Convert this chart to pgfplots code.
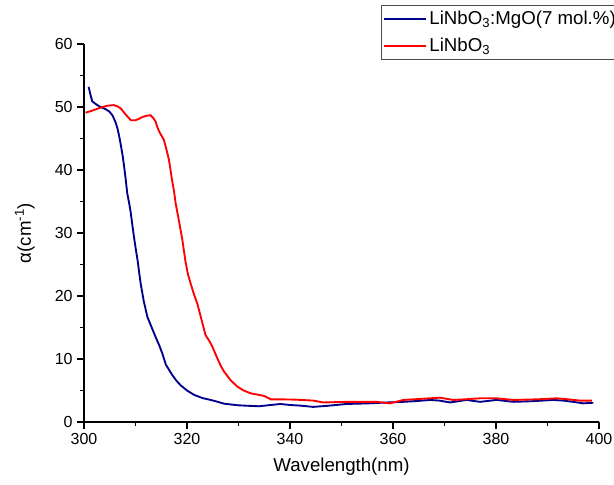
\documentclass[border=0pt]{standalone}
\usepackage{pgfplots}
\pgfplotsset{compat=1.18}
\usepackage{fontspec}
\setmainfont{Liberation Sans}
\definecolor{navyline}{RGB}{0,0,140}
\begin{document}
\begin{tikzpicture}
\begin{axis}[
  scale only axis,
  width=386.25pt, height=283.5pt,
  at={(0,0)}, anchor=south west,
  xmin=300, xmax=400, ymin=0, ymax=60,
  axis x line*=bottom, axis y line*=left,
  axis line style={-, line width=0.9pt},
  xtick={300,320,...,400}, ytick={0,10,...,60},
  minor x tick num=1, minor y tick num=1,
  tick align=outside,
  major tick length=5pt, minor tick length=3pt,
  every tick/.style={black, line width=0.8pt},
  /pgf/number format/assume math mode=true,
  ticklabel style={font=\fontsize{12}{14}\selectfont},
  xlabel={Wavelength(nm)},
  ylabel={α(cm\textsuperscript{-1})},
  every axis x label/.style={at={(axis description cs:0.5,-0.119)}, anchor=center, font=\fontsize{14}{16}\selectfont},
  every axis y label/.style={at={(axis description cs:-0.115,0.5)}, anchor=center, rotate=90, font=\fontsize{14}{16}\selectfont},
  legend style={at={(axis description cs:0.5767,1.103)}, anchor=north west,
    draw=black!70, line width=0.8pt, fill=white, font=\fontsize{14}{16}\selectfont,
    inner xsep=1pt, inner ysep=2pt, row sep=5pt},
  legend cell align=left,
  legend image code/.code={\draw[#1, line width=1.4pt] (0pt,0pt) -- (31.5pt,0pt);},
]
\addplot[navyline, line width=1.4pt] coordinates {
(300.9,53.2) (301.3,51.8) (301.6,50.9) (302.4,50.4) (303.2,50.0) (304.1,49.7) (304.9,49.3) (305.5,48.7) (305.8,48.2) (306.2,47.4) (306.5,46.6) (306.8,45.5) (307.1,44.2) (307.5,42.3) (307.8,40.5) (308.1,38.5) (308.4,36.3) (308.8,34.6) (309.1,33.1) (309.4,31.2) (309.7,29.4) (310.1,27.2) (310.4,25.7) (310.7,23.8) (311.0,22.0) (311.6,19.2) (312.3,16.7) (313.1,15.1) (313.9,13.5) (314.6,12.2) (315.2,10.9) (315.9,9.1) (316.5,8.3) (317.1,7.5) (318.0,6.5) (318.8,5.8) (320.0,5.0) (321.4,4.3) (323.0,3.8) (324.6,3.5) (326.0,3.2) (327.2,2.9) (330,2.65) (332.4,2.55) (334,2.5) (336.3,2.7) (338.1,2.86) (340,2.7) (342,2.6) (344.5,2.4) (347,2.55) (351.0,2.86) (355,2.95) (358.8,3.1) (362.0,3.2) (365,3.35) (367.2,3.5) (369,3.4) (371.1,3.1) (374.3,3.5) (376.9,3.2) (380.1,3.5) (383.4,3.2) (387,3.3) (391.1,3.5) (393,3.4) (395.0,3.2) (396.9,2.96) (398.9,3.06)
};
\addlegendentry{LiNbO\textsubscript{3}:MgO(7 mol.\%)}
\addplot[red, line width=1.4pt] coordinates {
(300.3,49.1) (301.5,49.4) (303.2,49.9) (304.5,50.2) (305.8,50.3) (306.5,50.1) (307.1,49.8) (308.1,48.8) (309.1,47.9) (310.0,47.9) (310.6,48.1) (311.3,48.4) (312.1,48.6) (312.9,48.7) (313.4,48.3) (313.9,47.7) (314.2,46.9) (314.6,46.1) (315.5,44.8) (316.0,43.3) (316.5,41.6) (316.8,40.0) (317.1,38.4) (317.5,36.5) (317.8,34.7) (318.4,32.1) (319.1,28.9) (319.7,25.5) (320.2,23.4) (320.7,22.0) (321.3,20.4) (322.0,18.8) (322.8,16.3) (323.6,13.8) (324.3,12.9) (324.9,12.0) (325.9,10.1) (326.5,9.0) (327.2,8.0) (328.5,6.6) (329.8,5.6) (331,5.0) (332.4,4.55) (335.0,4.13) (336.3,3.6) (338.1,3.6) (341,3.55) (344.5,3.4) (346.5,3.1) (351.0,3.2) (356.8,3.2) (359.4,2.96) (362.0,3.5) (366,3.7) (369.1,3.86) (371.7,3.5) (374,3.6) (376.9,3.76) (380.1,3.76) (383.4,3.5) (388,3.6) (391.8,3.76) (394,3.6) (396.3,3.4) (398.6,3.4)
};
\addlegendentry{LiNbO\textsubscript{3}}
\end{axis}
\pgfresetboundingbox
\path (-63pt,-47.25pt) rectangle (397.5pt,316.5pt);
\end{tikzpicture}
\end{document}
